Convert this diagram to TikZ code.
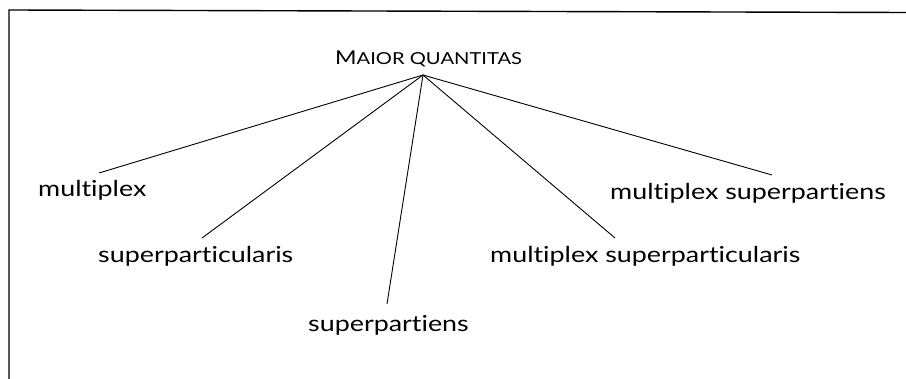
\documentclass[tikz,border=0pt]{standalone}
\usepackage{fontspec}
\setmainfont{Lato}[FakeStretch=1.22,Ligatures=NoCommon]
\begin{document}
\begin{tikzpicture}[x=1pt,y=-1pt,
  lbl/.style={inner sep=0pt,anchor=base west,font=\fontsize{22}{26}\selectfont},
  branch/.style={line width=0.9pt},
  frame/.style={line width=1.4pt}]
\useasboundingbox (0,0) rectangle (906,379);
\draw[frame] (9,379) -- (9,10) -- (906,12.5);
\node[inner sep=0pt,anchor=base west] (title) at (335,65)
  {\fontsize{19}{22}\selectfont M\fontsize{16.5}{19}\selectfont AIOR QUANTITAS};
\coordinate (apex) at (423,75);
\node[lbl] (n1) at (38,197) {multiplex};
\node[lbl] (n2) at (98,263) {superparticularis};
\node[lbl] (n3) at (308,332) {superpartiens};
\node[lbl] (n4) at (490,263) {multiplex superparticularis};
\node[lbl] (n5) at (610,200) {multiplex superpartiens};
\coordinate (e1) at (99,173);
\coordinate (e2) at (202,238);
\coordinate (e3) at (387,304);
\coordinate (e4) at (615,238);
\coordinate (e5) at (772,175);
\foreach \e in {e1,e2,e3,e4,e5} \draw[branch] (apex) -- (\e);
\end{tikzpicture}
\end{document}
